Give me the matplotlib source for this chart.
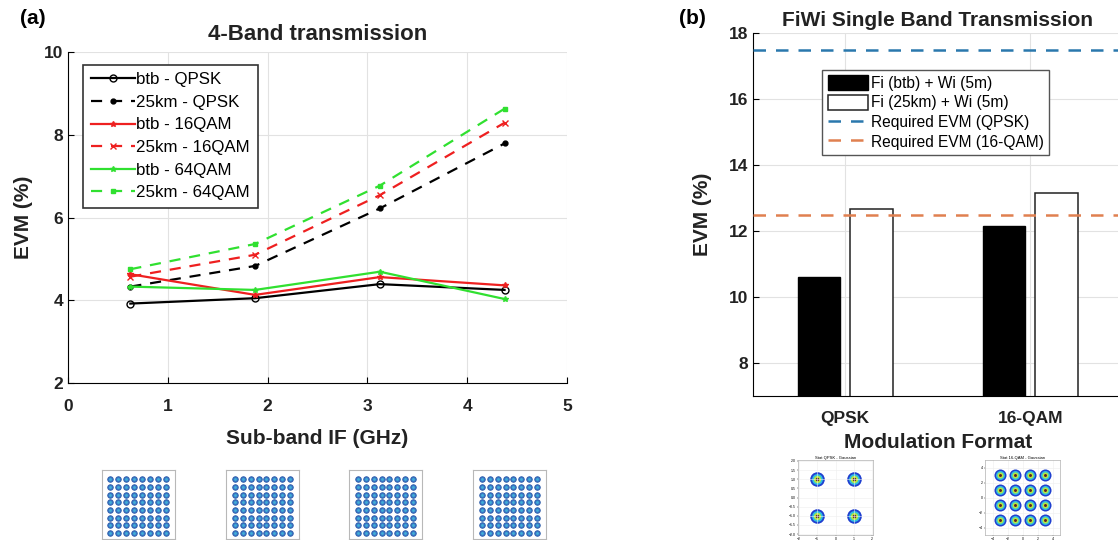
import matplotlib.pyplot as plt
import numpy as np

plt.rcParams['font.family'] = ['Liberation Sans', 'DejaVu Sans']

# (a) 4-band transmission
sub_band_if = [0.625, 1.875, 3.125, 4.375]
btb_qpsk = [3.92, 4.05, 4.39, 4.25]
km25_qpsk = [4.33, 4.83, 6.22, 7.79]
btb_16qam = [4.63, 4.13, 4.56, 4.36]
km25_16qam = [4.57, 5.10, 6.54, 8.29]
btb_64qam = [4.33, 4.25, 4.69, 4.03]
km25_64qam = [4.75, 5.36, 6.77, 8.63]

# (b) single band transmission
formats = ['QPSK', '16-QAM']
evm_btb = [10.61, 12.16]
evm_25km = [12.66, 13.17]
req_qpsk = 17.5
req_16qam = 12.5

# constellation levels
lv64 = [-7, -5, -3, -1, 1, 3, 5, 7]
lv4 = [-1, 1]
lv16 = [-3, -1, 1, 3]

fig = plt.figure(figsize=(11.18, 5.40), dpi=100)

def matlab_axes(ax, pad):
    ax.spines['top'].set_visible(False)
    ax.spines['right'].set_visible(False)
    ax.tick_params(direction='in', length=4, labelsize=12.5, width=0.8)
    ax.tick_params(axis='x', pad=pad)
    for lab in ax.get_xticklabels() + ax.get_yticklabels():
        lab.set_fontweight('bold')
        lab.set_color('#222222')
    ax.grid(True, color='#e2e2e2', linewidth=0.8)
    ax.set_axisbelow(True)

# ---- left plot
ax1 = fig.add_axes([0.0608, 0.2907, 0.4463, 0.613])
ax1.plot(sub_band_if, btb_qpsk, '-', color='black', marker='o', mfc='none', ms=5, lw=1.6, label='btb - QPSK')
ax1.plot(sub_band_if, km25_qpsk, '--', color='black', marker='o', ms=3.5, lw=1.6, dashes=(5, 4), label='25km - QPSK')
ax1.plot(sub_band_if, btb_16qam, '-', color='#ee2020', marker='*', ms=4, lw=1.6, label='btb - 16QAM')
ax1.plot(sub_band_if, km25_16qam, '--', color='#ee2020', marker='x', ms=4, lw=1.6, dashes=(5, 4), label='25km - 16QAM')
ax1.plot(sub_band_if, btb_64qam, '-', color='#30e030', marker='*', ms=4, lw=1.6, label='btb - 64QAM')
ax1.plot(sub_band_if, km25_64qam, '--', color='#30e030', marker='s', ms=3, lw=1.6, dashes=(5, 4), label='25km - 64QAM')
ax1.set_xlim(0, 5)
ax1.set_ylim(2, 10)
ax1.set_xticks(range(0, 6))
ax1.set_yticks([2, 4, 6, 8, 10])
matlab_axes(ax1, 11.5)
ax1.set_xlabel('Sub-band IF (GHz)', fontsize=15, fontweight='bold', labelpad=11, color='#222222')
ax1.set_ylabel('EVM (%)', fontsize=15, fontweight='bold', labelpad=8, color='#222222')
ax1.set_title('4-Band transmission', fontsize=16, fontweight='bold', pad=9, color='#222222')
leg1 = ax1.legend(loc='upper left', bbox_to_anchor=(0.03, 0.962), borderaxespad=0, fontsize=12.2,
                  frameon=True, fancybox=False, edgecolor='#333333', framealpha=1, handlelength=2.6,
                  handletextpad=0.1, borderpad=0.45, labelspacing=0.45)
leg1.get_frame().set_linewidth(1.2)
fig.text(0.018, 0.955, '(a)', fontsize=15, fontweight='bold')

# ---- right plot
ax2 = fig.add_axes([0.6733, 0.2667, 0.3308, 0.6717])
x = np.arange(1, len(formats) + 1)
w = 0.23
b1 = ax2.bar(x - 0.142, evm_btb, w, color='black', edgecolor='black', label='Fi (btb) + Wi (5m)', zorder=2)
b2 = ax2.bar(x + 0.142, evm_25km, w, color='white', edgecolor='#222222', lw=1.1, label='Fi (25km) + Wi (5m)', zorder=2)
l1 = ax2.axhline(req_qpsk, color='#2a78ad', ls='--', lw=1.8, dashes=(5, 4), label='Required EVM (QPSK)', zorder=3)
l2 = ax2.axhline(req_16qam, color='#e08050', ls='--', lw=1.8, dashes=(5, 4), label='Required EVM (16-QAM)', zorder=3)
ax2.set_xlim(0.5, 2.5)
ax2.set_ylim(7, 18)
ax2.set_xticks(x)
ax2.set_xticklabels(formats)
ax2.set_yticks([8, 10, 12, 14, 16, 18])
matlab_axes(ax2, 11)
ax2.tick_params(axis='x', length=0)
ax2.set_xlabel('Modulation Format', fontsize=15, fontweight='bold', labelpad=5, color='#222222')
ax2.set_ylabel('EVM (%)', fontsize=15, fontweight='bold', labelpad=12, color='#222222')
ax2.set_title('FiWi Single Band Transmission', fontsize=15, fontweight='bold', pad=5, color='#222222')
leg2 = ax2.legend([b1, b2, l1, l2], [b1.get_label(), b2.get_label(), l1.get_label(), l2.get_label()],
                  loc='upper left', bbox_to_anchor=(0.188, 0.9), borderaxespad=0, fontsize=11.2,
                  frameon=True, fancybox=False, edgecolor='#555555', framealpha=1, handlelength=2.6,
                  handleheight=1.1, handletextpad=0.15, borderpad=0.35, labelspacing=0.25)
leg2.get_frame().set_linewidth(1.0)
fig.text(0.607, 0.955, '(b)', fontsize=15, fontweight='bold')

# ---- constellation insets (a)
for left in [101.7, 226, 349, 473]:
    ins = fig.add_axes([left / 1118, 1 / 540, 73 / 1118, 69 / 540])
    gx, gy = np.meshgrid(lv64, lv64)
    ins.scatter(gx.ravel(), gy.ravel(), s=16, color='#3a78c8', edgecolors='#2a5aa8', lw=0.6)
    ins.scatter(gx.ravel(), gy.ravel(), s=4, color='#40b0d8', lw=0)
    ins.set_xlim(-9.2, 9.2)
    ins.set_ylim(-8.6, 9.4)
    ins.set_xticks([])
    ins.set_yticks([])
    for s in ins.spines.values():
        s.set_color('#b8b8b8')

# ---- constellation insets (b)
for left, lv, title, lim in [(798, lv4, 'Stat QPSK - Gaussian', 2.05), (985, lv16, 'Stat 16-QAM - Gaussian', 5.0)]:
    ins = fig.add_axes([left / 1118, 5 / 540, 75 / 1118, 75 / 540])
    gx, gy = np.meshgrid(lv, lv)
    sz = 110 if len(lv) == 2 else 75
    ins.scatter(gx.ravel(), gy.ravel(), s=sz, color='#2040d0', lw=0)
    ins.scatter(gx.ravel(), gy.ravel(), s=sz * 0.55, color='#30c0e0', lw=0)
    ins.scatter(gx.ravel(), gy.ravel(), s=sz * 0.25, color='#b8e840', lw=0)
    ins.scatter(gx.ravel(), gy.ravel(), s=sz * 0.06, color='#602020', lw=0)
    ins.set_xlim(-lim, lim)
    ins.set_ylim(-lim, lim)
    ins.set_title(title, fontsize=3, pad=1)
    ins.tick_params(labelsize=2.5, length=1, width=0.3, pad=0.5)
    ins.grid(True, color='#eeeeee', lw=0.4)
    for s in ins.spines.values():
        s.set_color('#b0b0b0')
        s.set_linewidth(0.5)

fig.savefig('out.png', dpi=100)
